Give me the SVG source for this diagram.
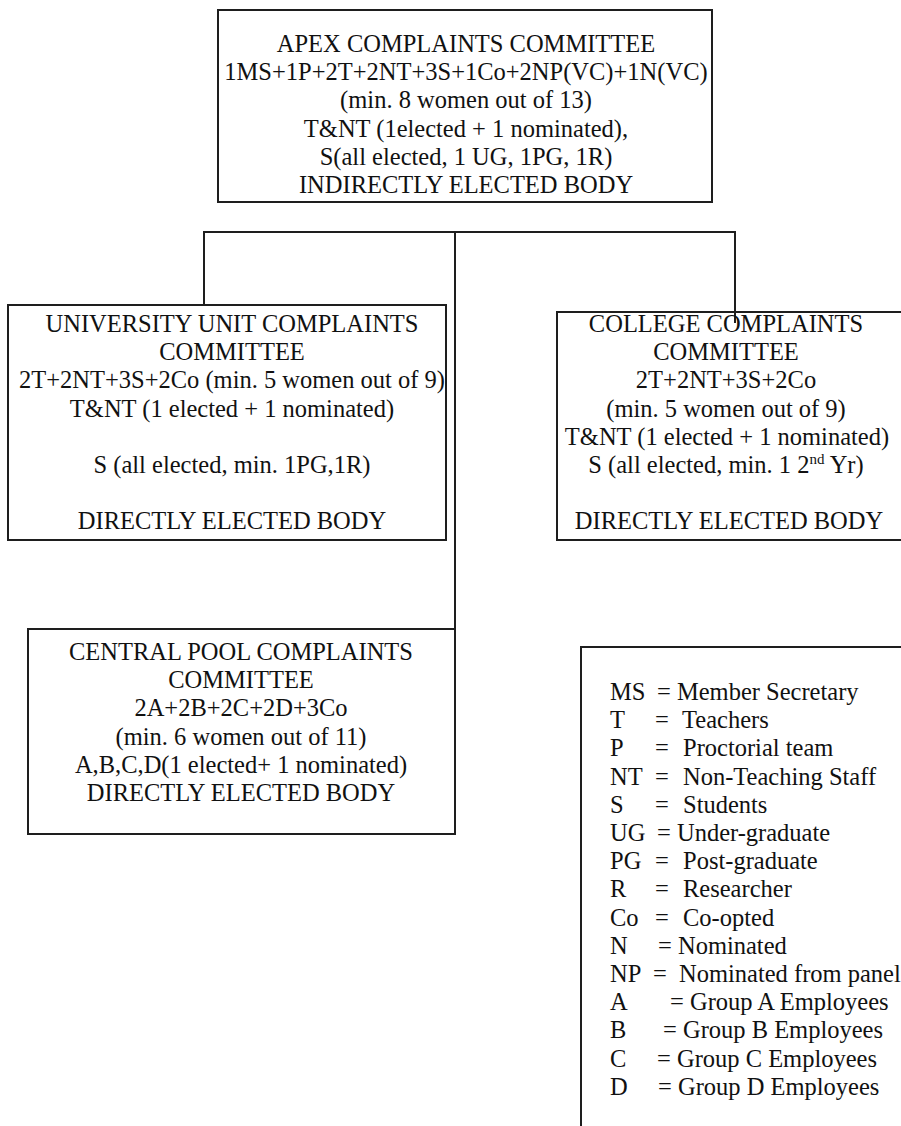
<svg xmlns="http://www.w3.org/2000/svg" width="901" height="1126" viewBox="0 0 901 1126">
<style>
  .box { fill: none; stroke: #1e1e1e; stroke-width: 2; }
  .conn { fill: none; stroke: #1e1e1e; stroke-width: 2; }
  text { font-family: "Liberation Serif", "Times New Roman", serif; font-size: 24.5px; fill: #111; }
  .c { text-anchor: middle; }
  .sup { font-size: 15px; }
</style>
<rect x="0" y="0" width="901" height="1126" fill="#ffffff"/>

<g id="connectors">
  <polyline class="conn" points="204,305 204,232 735,232 735,323"/>
  <line class="conn" x1="455" y1="232" x2="455" y2="629"/>
</g>

<g id="apex">
  <rect class="box" x="218" y="10" width="494" height="192"/>
  <text class="c" x="466" y="52">APEX COMPLAINTS COMMITTEE</text>
  <text class="c" x="466" y="80.2">1MS+1P+2T+2NT+3S+1Co+2NP(VC)+1N(VC)</text>
  <text class="c" x="466" y="108.4">(min. 8 women out of 13)</text>
  <text class="c" x="466" y="136.6">T&amp;NT (1elected + 1 nominated),</text>
  <text class="c" x="466" y="164.8">S(all elected, 1 UG, 1PG, 1R)</text>
  <text class="c" x="466" y="193">INDIRECTLY ELECTED BODY</text>
</g>

<g id="university">
  <rect class="box" x="8" y="305" width="438" height="235"/>
  <text class="c" x="232" y="332">UNIVERSITY UNIT COMPLAINTS</text>
  <text class="c" x="232" y="360.2">COMMITTEE</text>
  <text class="c" x="232" y="388.4">2T+2NT+3S+2Co (min. 5 women out of 9)</text>
  <text class="c" x="232" y="416.6">T&amp;NT (1 elected + 1 nominated)</text>
  <text class="c" x="232" y="473">S (all elected, min. 1PG,1R)</text>
  <text class="c" x="232" y="529.4">DIRECTLY ELECTED BODY</text>
</g>

<g id="college">
  <rect class="box" x="557" y="312" width="380" height="228"/>
  <text class="c" x="726" y="332">COLLEGE COMPLAINTS</text>
  <text class="c" x="726" y="360.2">COMMITTEE</text>
  <text class="c" x="726" y="388.4">2T+2NT+3S+2Co</text>
  <text class="c" x="726" y="416.6">(min. 5 women out of 9)</text>
  <text class="c" x="727" y="444.8">T&amp;NT (1 elected + 1 nominated)</text>
  <text class="c" x="726" y="473">S (all elected, min. 1 2<tspan class="sup" dy="-9">nd</tspan><tspan dy="9"> Yr)</tspan></text>
  <text class="c" x="729" y="529.4">DIRECTLY ELECTED BODY</text>
</g>

<g id="central-pool">
  <rect class="box" x="28" y="629" width="427" height="205"/>
  <text class="c" x="241" y="660">CENTRAL POOL COMPLAINTS</text>
  <text class="c" x="241" y="688.2">COMMITTEE</text>
  <text class="c" x="241" y="716.4">2A+2B+2C+2D+3Co</text>
  <text class="c" x="241" y="744.6">(min. 6 women out of 11)</text>
  <text class="c" x="241" y="772.8">A,B,C,D(1 elected+ 1 nominated)</text>
  <text class="c" x="241" y="801">DIRECTLY ELECTED BODY</text>
</g>

<g id="legend">
  <rect class="box" x="581" y="647" width="400" height="600"/>
  <text x="610" y="700">MS</text><text x="657" y="700">= Member Secretary</text>
  <text x="610" y="728.2">T</text><text x="655" y="728.2">=</text><text x="682" y="728.2">Teachers</text>
  <text x="610" y="756.4">P</text><text x="655" y="756.4">=</text><text x="683" y="756.4">Proctorial team</text>
  <text x="610" y="784.6">NT</text><text x="655" y="784.6">=</text><text x="683" y="784.6">Non-Teaching Staff</text>
  <text x="610" y="812.8">S</text><text x="655" y="812.8">=</text><text x="683" y="812.8">Students</text>
  <text x="610" y="841">UG</text><text x="657" y="841">= Under-graduate</text>
  <text x="610" y="869.2">PG</text><text x="655" y="869.2">=</text><text x="683" y="869.2">Post-graduate</text>
  <text x="610" y="897.4">R</text><text x="655" y="897.4">=</text><text x="683" y="897.4">Researcher</text>
  <text x="610" y="925.6">Co</text><text x="655" y="925.6">=</text><text x="683" y="925.6">Co-opted</text>
  <text x="610" y="953.8">N</text><text x="658" y="953.8">= Nominated</text>
  <text x="610" y="982">NP</text><text x="653" y="982">=</text><text x="679" y="982">Nominated from panel</text>
  <text x="610" y="1010.2">A</text><text x="670" y="1010.2">= Group A Employees</text>
  <text x="610" y="1038.4">B</text><text x="663" y="1038.4">= Group B Employees</text>
  <text x="610" y="1066.6">C</text><text x="657" y="1066.6">= Group C Employees</text>
  <text x="610" y="1094.8">D</text><text x="658" y="1094.8">= Group D Employees</text>
</g>
</svg>
